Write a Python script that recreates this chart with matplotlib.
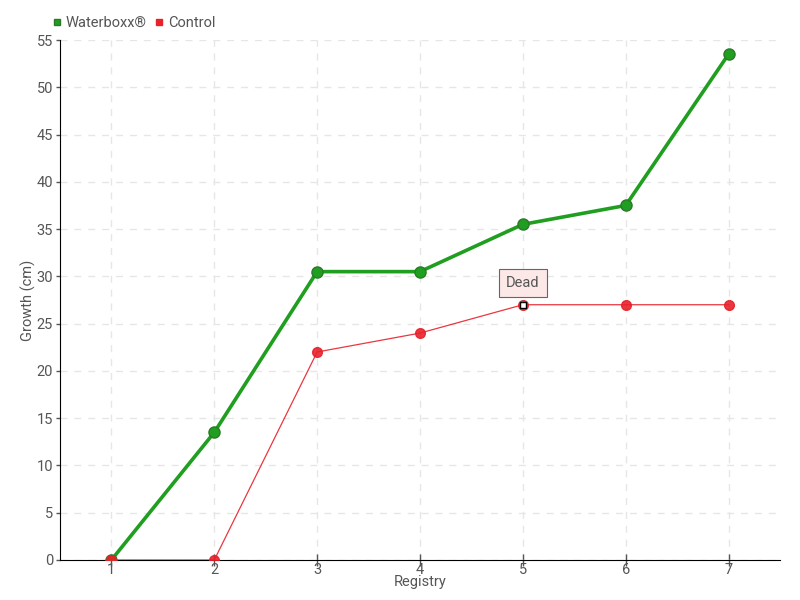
import matplotlib
matplotlib.use('Agg')
import matplotlib.pyplot as plt

registry = [1, 2, 3, 4, 5, 6, 7]
waterboxx = [0, 13.5, 30.5, 30.5, 35.5, 37.5, 53.5]
control = [0, 0, 22, 24, 27, 27, 27]
yticks = list(range(0, 56, 5))

green = '#1f9e1f'
red = '#e8212b'
txt = '#555555'

plt.rcParams['font.family'] = ['Roboto', 'DejaVu Sans']

fig = plt.figure(figsize=(8, 6), dpi=100)
ax = fig.add_axes([0.075, 0.0667, 0.9, 0.8666])

ax.plot(registry, waterboxx, '-o', color=green, lw=2.6, ms=8,
        mfc=green, mec='#2a7a2a', mew=1, label='Waterboxx®', zorder=3)
ax.plot(registry, control, '-o', color=red, lw=0.9, ms=7,
        mfc=red, mec=red, label='Control', zorder=4, alpha=0.9)
# marker of the dead plant
ax.plot([5], [27], 's', ms=4, mfc='white', mec='black', mew=1, zorder=5)
ax.annotate('Dead', xy=(5, 27), xytext=(5, 29.3), ha='center', va='center',
            fontsize=10.5, color=txt,
            bbox=dict(boxstyle='square,pad=0.5', fc='#fde8e8', ec='#666666', lw=0.8),
            arrowprops=dict(arrowstyle='-', color='#666666', lw=0.8), zorder=6)

ax.set_xlim(0.5, 7.5)
ax.set_ylim(0, 55)
ax.set_xticks(registry)
ax.set_yticks(yticks)
ax.grid(True, color='#e6e6e6', linestyle=(0, (5, 5)), lw=1)
ax.set_axisbelow(True)
for s in ['top', 'right']:
    ax.spines[s].set_visible(False)
ax.tick_params(axis='both', colors=txt, labelsize=10.5, length=4, width=1)
ax.tick_params(axis='x', direction='inout', length=8, pad=-2)
ax.tick_params(axis='y', direction='out', length=3, pad=2)
for t in ax.get_xticklines() + ax.get_yticklines():
    t.set_color('black')
ax.set_xlabel('Registry', color=txt, fontsize=10.5, labelpad=-1)
ax.set_ylabel('Growth (cm)', color=txt, fontsize=10.5)
ax.yaxis.set_label_coords(-0.033, 0.5)

ax.legend(loc='lower left', bbox_to_anchor=(-0.025, 1.0), ncol=2, frameon=False,
          fontsize=10.5, handlelength=0.6, handletextpad=0.3, columnspacing=0.6,
          labelcolor=txt, borderaxespad=0.3)
leg = ax.get_legend()
for h in leg.legend_handles:
    h.set_linestyle('None')
    h.set_marker('s')
    h.set_markersize(5)
    h.set_alpha(1)

fig.savefig('out.png', dpi=100)
